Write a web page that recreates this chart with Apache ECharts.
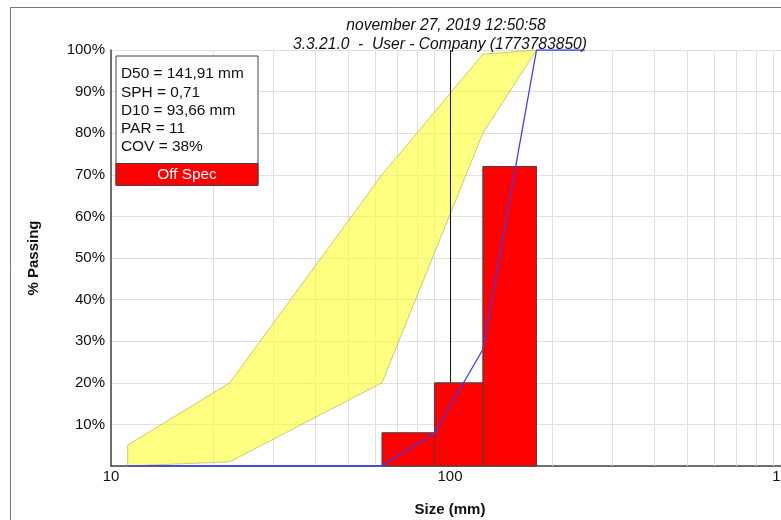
<!DOCTYPE html>
<html>
<head>
<meta charset="utf-8">
<script src="https://cdn.jsdelivr.net/npm/echarts@6/dist/echarts.min.js"></script>
<style>html,body{margin:0;padding:0;background:#fff;}#c{width:781px;height:520px;}</style>
</head>
<body>
<div id="c"></div>
<script>
// ---- data ----
const binEdges = [63, 90, 125, 180];          // mm, histogram bin edges
const retained = [8, 20, 72];                 // % retained in each bin
const passingX = [11.2, 63, 90, 125, 180, 250];
const passingY = [0, 0, 8, 28, 100, 100];
const envUpperX = [11.2, 22.4, 63, 125, 180];
const envUpperY = [5, 20, 70, 99, 100];
const envLowerX = [11.2, 22.4, 63, 125, 180];
const envLowerY = [0, 1, 20, 80, 100];
const refSize = [100];
const minorGridX = [20,30,40,50,60,70,80,90,200,300,400,500,600,700,800,900];
const yTicks = [10,20,30,40,50,60,70,80,90,100];
const statLines = ['D50 = 141,91 mm','SPH = 0,71','D10 = 93,66 mm','PAR = 11','COV = 38%'];
const statusText = 'Off Spec';
const titleLines = ['november 27, 2019 12:50:58','3.3.21.0  -  User - Company (1773783850)'];

const FONT = '"Liberation Sans", Arial, sans-serif';
const chart = echarts.init(document.getElementById('c'), null, {renderer:'canvas'});

const barData = retained.map((v,i)=>[binEdges[i], binEdges[i+1], v]);

function vLineSeries(xs, color, z){
  return {
    type:'custom', z:z, silent:true, clip:true,
    encode:{x:0},
    data: xs.map(x=>[x]),
    renderItem:(params, api)=>{
      const top = api.coord([api.value(0), 100]);
      const bot = api.coord([api.value(0), 0]);
      const x = Math.round(top[0]) + 0.5;
      return {type:'line', shape:{x1:x, y1:top[1], x2:x, y2:bot[1]},
        style:{stroke:color, lineWidth:1}};
    }
  };
}

const titleStyle = {fontFamily:FONT, fontSize:15.6, fontStyle:'italic', fontWeight:'normal', color:'#111'};

const option = {
  animation:false,
  backgroundColor:'#fff',
  title:[
    {text:titleLines[0], left:441, top:13, textAlign:'center', textStyle:titleStyle},
    {text:titleLines[1], left:435, top:32, textAlign:'center', textStyle:titleStyle}
  ],
  grid:{left:111, right:-8, top:50, bottom:54, containLabel:false, outerBoundsMode:'none'},
  xAxis:{
    type:'log', logBase:10, min:10, max:1000,
    name:'Size (mm)', nameLocation:'middle', nameGap:36,
    nameTextStyle:{fontFamily:FONT, fontSize:15, fontWeight:'bold', color:'#111'},
    axisLine:{show:true, onZero:false, lineStyle:{color:'#444', width:1.5}},
    axisTick:{show:false},
    axisLabel:{fontFamily:FONT, fontSize:15, color:'#111', margin:3, showMaxLabel:true,
      formatter:v=>String(Math.round(v))},
    splitLine:{show:true, lineStyle:{color:'#e0e0e0', width:1}}
  },
  yAxis:{
    type:'value', min:0, max:100, interval:10,
    name:'% Passing', nameLocation:'middle', nameGap:70, nameRotate:90,
    nameTextStyle:{fontFamily:FONT, fontSize:15, fontWeight:'bold', color:'#111'},
    axisLine:{show:true, lineStyle:{color:'#444', width:1.5}},
    axisTick:{show:false},
    axisLabel:{fontFamily:FONT, fontSize:15, color:'#111', margin:6,
      formatter:v=> yTicks.indexOf(v)>=0 ? v+'%' : ''},
    splitLine:{show:true, lineStyle:{color:'#e0e0e0', width:1}}
  },
  series:[
    vLineSeries(minorGridX, '#e0e0e0', 1),
    {
      type:'custom', z:2, silent:true, clip:true,
      data:[[envUpperX[0], envUpperY[0]]],
      renderItem:(params, api)=>{
        const pts = [];
        for (let i=0;i<envUpperX.length;i++) pts.push(api.coord([envUpperX[i], envUpperY[i]]));
        for (let i=envLowerX.length-1;i>=0;i--) pts.push(api.coord([envLowerX[i], envLowerY[i]]));
        return {type:'polygon', shape:{points:pts},
          style:{fill:'rgba(255,255,40,0.58)', stroke:'rgba(170,170,60,0.6)', lineWidth:1}};
      }
    },
    vLineSeries(refSize, '#111', 3),
    {
      type:'custom', z:4, silent:true,
      encode:{x:[0,1], y:2},
      data: barData,
      renderItem:(params, api)=>{
        const p0 = api.coord([api.value(0), api.value(2)]);
        const p1 = api.coord([api.value(1), 0]);
        return {type:'rect', shape:{x:p0[0], y:p0[1], width:p1[0]-p0[0], height:p1[1]-p0[1]},
          style:{fill:'#ff0000', stroke:'#444', lineWidth:1}};
      }
    },
    {
      type:'line', z:5, silent:true, symbol:'none',
      data: passingX.map((x,i)=>[x, passingY[i]]),
      lineStyle:{color:'#3b3bff', width:1.3}
    }
  ],
  graphic:[
    {type:'rect', z:0, silent:true, shape:{x:10.5, y:7.5, width:900, height:700},
      style:{fill:'none', stroke:'#777', lineWidth:1}},
    {type:'rect', z:100, silent:true, shape:{x:116, y:56, width:142, height:129}, style:{fill:'#fff', stroke:'#444', lineWidth:1}},
    {type:'rect', z:101, silent:true, shape:{x:116, y:163.5, width:142, height:22}, style:{fill:'#ff0000', stroke:'#444', lineWidth:1}},
    ...statLines.map((t,i)=>({type:'text', z:102, silent:true, x:121, y:74+i*18.3,
      style:{text:t, font:'15.4px "Liberation Sans", Arial, sans-serif', fill:'#111', verticalAlign:'middle', textVerticalAlign:'middle'}})),
    {type:'text', z:102, silent:true, x:187, y:174.5, style:{text:statusText, font:'15.4px "Liberation Sans", Arial, sans-serif', fill:'#fff',
      align:'center', textAlign:'center', verticalAlign:'middle', textVerticalAlign:'middle'}}
  ]
};
chart.setOption(option);
</script>
</body>
</html>
